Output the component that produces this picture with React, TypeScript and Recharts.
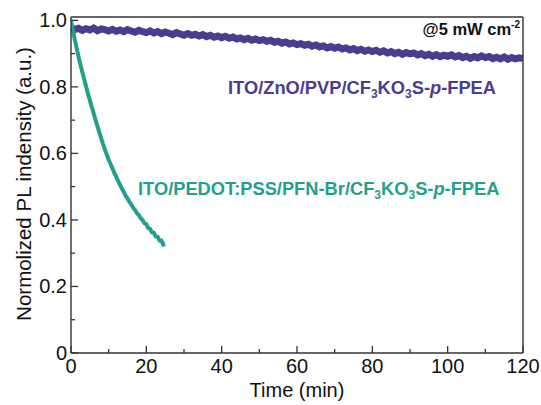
import React from "react";
import { LineChart, Line, XAxis, YAxis } from "recharts";

// ---- data ----
const xTicks = [0, 10, 20, 30, 40, 50, 60, 70, 80, 90, 100, 110, 120];
const yTicks = [0, 0.1, 0.2, 0.3, 0.4, 0.5, 0.6, 0.7, 0.8, 0.9, 1.0];

// ITO/ZnO/PVP/... sampled every 1 min (0..120)
const znoValues = [
  0.978, 0.972, 0.976, 0.970, 0.975, 0.971, 0.977, 0.969, 0.974, 0.972, 0.968,
  0.973, 0.967, 0.971, 0.966, 0.972, 0.968, 0.964, 0.970, 0.966, 0.963,
  0.968, 0.962, 0.966, 0.960, 0.965, 0.961, 0.957, 0.963, 0.959, 0.955,
  0.960, 0.955, 0.958, 0.953, 0.957, 0.951, 0.955, 0.949, 0.953, 0.948,
  0.952, 0.946, 0.950, 0.944, 0.947, 0.942, 0.946, 0.940, 0.944, 0.939,
  0.942, 0.937, 0.940, 0.934, 0.937, 0.931, 0.935, 0.929, 0.932, 0.927,
  0.930, 0.925, 0.928, 0.922, 0.926, 0.920, 0.923, 0.917, 0.921, 0.916,
  0.920, 0.914, 0.917, 0.911, 0.915, 0.909, 0.913, 0.907, 0.911, 0.906,
  0.910, 0.904, 0.908, 0.902, 0.906, 0.900, 0.904, 0.898, 0.903, 0.899,
  0.902, 0.896, 0.900, 0.894, 0.898, 0.892, 0.897, 0.891, 0.895, 0.892,
  0.896, 0.890, 0.894, 0.888, 0.892, 0.886, 0.891, 0.887, 0.893, 0.888,
  0.891, 0.885, 0.889, 0.884, 0.890, 0.883, 0.888, 0.884, 0.887, 0.885,
];

// ITO/PEDOT:PSS/... sampled every 0.5 min (0..25)
const pedotValues = [
  1.0, 0.970, 0.942, 0.916, 0.891, 0.867, 0.845, 0.823, 0.801, 0.780,
  0.760, 0.740, 0.721, 0.701, 0.683, 0.664, 0.646, 0.628, 0.612, 0.596,
  0.581, 0.568, 0.555, 0.541, 0.530, 0.517, 0.506, 0.494, 0.485, 0.473,
  0.465, 0.454, 0.447, 0.436, 0.430, 0.420, 0.415, 0.405, 0.400, 0.390,
  0.387, 0.376, 0.373, 0.362, 0.361, 0.350, 0.349, 0.338, 0.338, 0.326,
  0.328,
];

const znoData = znoValues.map((v, i) => ({ t: i, v }));
const pedotData = pedotValues.map((v, i) => ({ t: i * 0.5, v }));

// ---- styles ----
const PURPLE = "#4a3d8f";
const TEAL = "#23a08b";
const AX = "#333333";
const FONT = "'Liberation Sans', Arial, Helvetica, sans-serif";

const XTick = (props: any) => {
  const { x, y, payload } = props;
  const v = payload.value;
  const major = v % 20 === 0;
  return (
    <g>
      <line x1={x} x2={x} y1={y} y2={y - (major ? 7 : 4)} stroke={AX} strokeWidth={1.3} />
      {major && (
        <text x={x} y={y + 20} textAnchor="middle" fontSize={20} fill="#111" fontFamily={FONT}>
          {v}
        </text>
      )}
    </g>
  );
};

const YTick = (props: any) => {
  const { x, y, payload } = props;
  const v = payload.value;
  const major = Math.round(v * 10) % 2 === 0;
  return (
    <g>
      <line x1={x} x2={x + (major ? 7 : 4)} y1={y} y2={y} stroke={AX} strokeWidth={1.3} />
      {major && (
        <text x={x - 4} y={y + 7} textAnchor="end" fontSize={20} fill="#111" fontFamily={FONT}>
          {v === 0 ? "0" : v.toFixed(1)}
        </text>
      )}
    </g>
  );
};

export default function App() {
  return (
    <div style={{ position: "absolute", left: 0, top: 0, width: 541, height: 405, background: "#fff" }}>
      <LineChart
        width={541}
        height={405}
        margin={{ top: 17, right: 18, bottom: 0, left: 0 }}
      >
        <XAxis
          dataKey="t"
          type="number"
          domain={[0, 120]}
          ticks={xTicks}
          allowDataOverflow
          height={52}
          tickSize={0}
          tickMargin={0}
          tickLine={false}
          tick={<XTick />}
          axisLine={{ stroke: AX, strokeWidth: 1.4 }}
          interval={0}
        />
        <YAxis
          type="number"
          domain={[0, 1.01]}
          ticks={yTicks}
          allowDataOverflow
          width={71}
          tickSize={0}
          tickMargin={0}
          tickLine={false}
          tick={<YTick />}
          axisLine={{ stroke: AX, strokeWidth: 1.4 }}
          interval={0}
        />
        <Line
          data={znoData}
          dataKey="v"
          type="linear"
          stroke={PURPLE}
          strokeWidth={7}
          dot={false}
          isAnimationActive={false}
        />
        <Line
          data={pedotData}
          dataKey="v"
          type="linear"
          stroke={TEAL}
          strokeWidth={4}
          dot={false}
          isAnimationActive={false}
        />
      </LineChart>
      <svg
        width={541}
        height={405}
        style={{ position: "absolute", left: 0, top: 0, pointerEvents: "none" }}
        fontFamily={FONT}
      >
        <line x1={71} x2={523} y1={17} y2={17} stroke={AX} strokeWidth={1.4} />
        <line x1={523} x2={523} y1={17} y2={353} stroke={AX} strokeWidth={1.4} />
        <text x={520} y={35} textAnchor="end" fontSize={16.5} fontWeight="bold" fill="#111">
          @5 mW cm<tspan dy={-7} fontSize={10}>-2</tspan>
        </text>
        <text x={228} y={94} fontSize={18.3} fontWeight="bold" fill={PURPLE}>
          ITO/ZnO/PVP/CF<tspan dy={4} fontSize={12}>3</tspan>
          <tspan dy={-4}>KO</tspan>
          <tspan dy={4} fontSize={12}>3</tspan>
          <tspan dy={-4}>S-</tspan>
          <tspan fontStyle="italic">p</tspan>-FPEA
        </text>
        <text x={138} y={195} fontSize={18.3} fontWeight="bold" fill={TEAL}>
          ITO/PEDOT:PSS/PFN-Br/CF<tspan dy={4} fontSize={12}>3</tspan>
          <tspan dy={-4}>KO</tspan>
          <tspan dy={4} fontSize={12}>3</tspan>
          <tspan dy={-4}>S-</tspan>
          <tspan fontStyle="italic">p</tspan>-FPEA
        </text>
        <text x={297} y={397} textAnchor="middle" fontSize={20} fill="#111">
          Time (min)
        </text>
        <text
          x={31}
          y={184}
          textAnchor="middle"
          fontSize={20.5}
          fill="#111"
          transform="rotate(-90 31 184)"
        >
          Normolized PL indensity (a.u.)
        </text>
      </svg>
    </div>
  );
}
